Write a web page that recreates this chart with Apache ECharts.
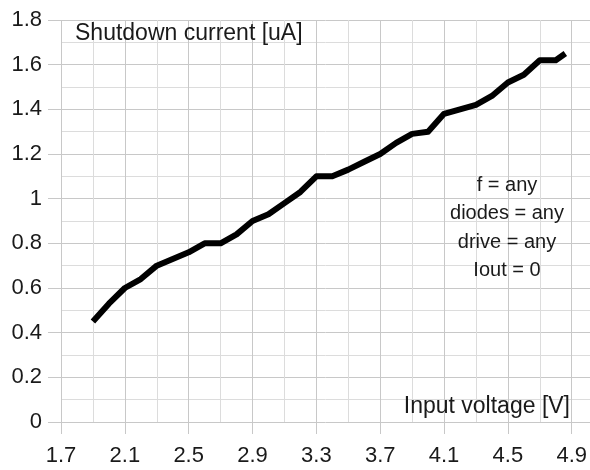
<!DOCTYPE html>
<html>
<head>
<meta charset="utf-8">
<script src="https://cdn.jsdelivr.net/npm/echarts@6/dist/echarts.min.js"></script>
<style>
  html, body { margin: 0; padding: 0; background: #fff; }
  #chart { width: 590px; height: 470px; }
</style>
</head>
<body>
<div id="chart"></div>
<script>
// input voltage [V] and shutdown current [uA]
const voltage = [1.9, 2.0, 2.1, 2.2, 2.3, 2.4, 2.5, 2.6, 2.7, 2.8,
                 2.9, 3.0, 3.1, 3.2, 3.3, 3.4, 3.5, 3.6, 3.7, 3.8,
                 3.9, 4.0, 4.1, 4.2, 4.3, 4.4, 4.5, 4.6, 4.7, 4.8, 4.86];
const current = [0.45, 0.53, 0.60, 0.64, 0.70, 0.73, 0.76, 0.80, 0.80, 0.84,
                 0.90, 0.93, 0.98, 1.03, 1.10, 1.10, 1.13, 1.165, 1.20, 1.25,
                 1.29, 1.30, 1.38, 1.40, 1.42, 1.46, 1.52, 1.555, 1.62, 1.62, 1.65];
const notes = ["f = any", "diodes = any", "drive = any", "Iout = 0"];

const X0 = 1.7; // x axis starts here, ticks every 0.4 from it
const font = "'Liberation Sans', Arial, sans-serif";
const textColor = "#1a1a1a";
const gridMajor = "#c8c8c8";
const gridMinor = "#dcdcdc";

const chart = echarts.init(document.getElementById("chart"));

const option = {
  animation: false,
  grid: [
    { left: 61, right: 17, top: 20, bottom: 48 },
    { left: 61, right: 0, top: 20, bottom: 48 } // horizontal lines run to the edge
  ],
  xAxis: [
    {
      type: "value",
      gridIndex: 0,
      min: 0,
      max: 3.2,
      interval: 0.4,
      axisLine: { show: false },
      axisTick: { show: true, length: 12, lineStyle: { color: gridMajor } },
      axisLabel: {
        margin: 23,
        fontSize: 22,
        fontFamily: font,
        color: textColor,
        formatter: (v) => String(+(v + X0).toFixed(1))
      },
      splitLine: { show: true, lineStyle: { color: gridMajor } },
      minorTick: { show: false, splitNumber: 2 },
      minorSplitLine: { show: true, lineStyle: { color: gridMinor } }
    },
    { type: "value", gridIndex: 1, min: 0, max: 1, show: false }
  ],
  yAxis: [
    {
      type: "value",
      gridIndex: 0,
      min: 0,
      max: 1.8,
      interval: 0.2,
      axisLine: { show: false },
      axisTick: { show: true, length: 13, lineStyle: { color: gridMajor } },
      axisLabel: { margin: 19, fontSize: 22, fontFamily: font, color: textColor },
      splitLine: { show: false }
    },
    {
      type: "value",
      gridIndex: 1,
      min: 0,
      max: 1.8,
      interval: 0.2,
      axisLine: { show: false },
      axisTick: { show: false },
      axisLabel: { show: false },
      splitLine: { show: true, lineStyle: { color: gridMajor } },
      minorTick: { show: false, splitNumber: 2 },
      minorSplitLine: { show: true, lineStyle: { color: gridMinor } }
    }
  ],
  series: [
    {
      type: "line",
      xAxisIndex: 0,
      yAxisIndex: 0,
      data: voltage.map((v, i) => [v - X0, current[i]]),
      showSymbol: false,
      lineStyle: { color: "#000", width: 6, join: "round" },
      z: 5
    }
  ],
  graphic: [
    {
      type: "text", left: 75, top: 22, z: 10,
      style: { text: "Shutdown current [uA]", font: "23px " + font, fill: textColor }
    },
    {
      type: "text", right: 20, top: 395, z: 10,
      style: { text: "Input voltage [V]", font: "23px " + font, fill: textColor }
    },
    ...notes.map((t, i) => ({
      type: "text", z: 10,
      x: 507, y: 185 + i * 28.5,
      style: {
        text: t, font: "20px " + font, fill: textColor,
        align: "center", verticalAlign: "middle"
      }
    }))
  ]
};

chart.setOption(option);
window.addEventListener("resize", () => chart.resize());
</script>
</body>
</html>
